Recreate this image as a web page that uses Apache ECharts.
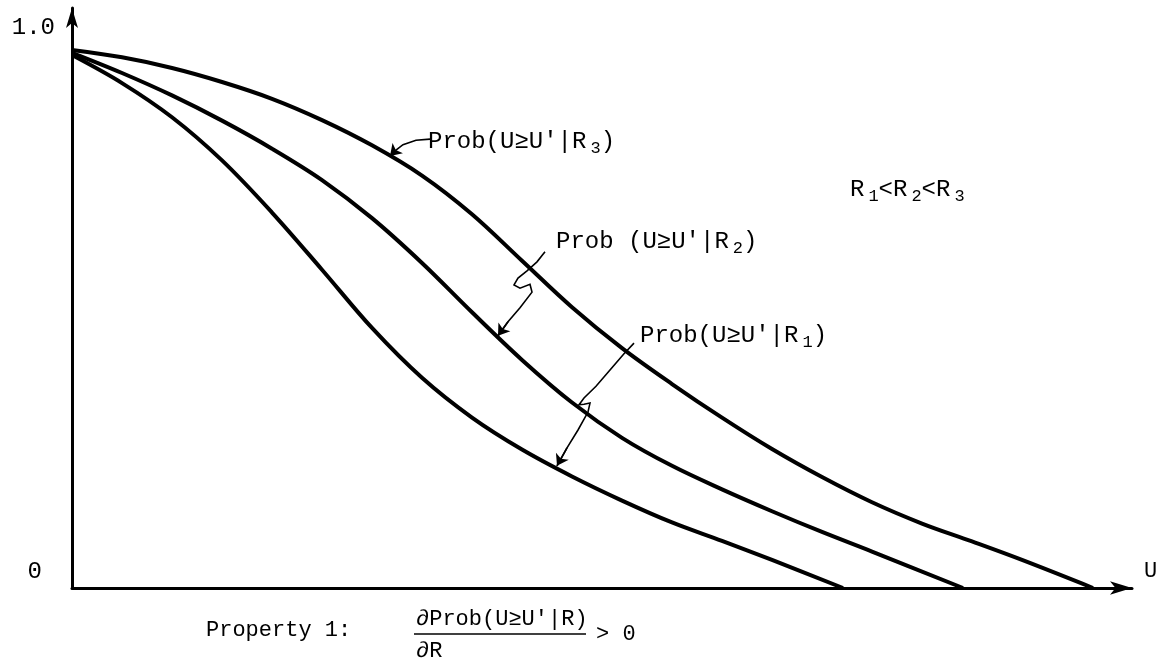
<!DOCTYPE html>
<html>
<head>
<meta charset="utf-8">
<script src="https://cdn.jsdelivr.net/npm/echarts@6/dist/echarts.min.js"></script>
<style>
    html, body { margin: 0; padding: 0; background: #fff; }
    #chart { width: 1162px; height: 666px; }
</style>
</head>
<body>
<div id="chart"></div>
<script>
    // U (horizontal) and Prob(U>=U'|R) values
    var r3U = [0, 0.5, 1, 1.5, 2, 2.5, 3, 3.5, 4, 4.5, 5, 5.5, 6, 6.5, 7, 7.5, 8, 8.5, 9, 9.5, 10.21];
    var r3P = [0.960, 0.947, 0.928, 0.903, 0.873, 0.835, 0.790, 0.736, 0.667, 0.584, 0.501, 0.428, 0.364,
        0.304, 0.248, 0.198, 0.153, 0.115, 0.083, 0.050, 0];

    var r2U = [0, 0.5, 1, 1.5, 2, 2.5, 3, 3.5, 4, 4.5, 5, 5.5, 6, 6.5, 7, 7.5, 8, 8.91];
    var r2P = [0.955, 0.919, 0.879, 0.834, 0.784, 0.728, 0.660, 0.580, 0.492, 0.407, 0.331, 0.268, 0.218,
        0.176, 0.137, 0.100, 0.065, 0];

    var r1U = [0, 0.5, 1, 1.5, 2, 2.5, 3, 3.5, 4, 4.5, 5, 5.5, 6, 6.5, 7, 7.71];
    var r1P = [0.951, 0.901, 0.840, 0.763, 0.670, 0.568, 0.464, 0.375, 0.304, 0.247, 0.199, 0.156, 0.117,
        0.084, 0.050, 0];

    // y tick labels
    var yTicks = [0, 1.0];

    // hand drawn leader arrows (data coords, last point = arrow tip)
    var leaderR3 = [[3.58, 0.801], [3.44, 0.799], [3.31, 0.791], [3.23, 0.780], [3.18, 0.771]];
    var leaderR2 = [[4.73, 0.600], [4.65, 0.582], [4.55, 0.566], [4.46, 0.553], [4.42, 0.541], [4.48, 0.535],
        [4.58, 0.542], [4.60, 0.528], [4.48, 0.500], [4.36, 0.475], [4.26, 0.450]];
    var leaderR1 = [[5.62, 0.437], [5.52, 0.418], [5.38, 0.389], [5.24, 0.360], [5.12, 0.339], [5.07, 0.327],
        [5.12, 0.328], [5.18, 0.330], [5.16, 0.314], [5.06, 0.282], [4.95, 0.250], [4.85, 0.218]];

    var FONT = "'Liberation Mono', 'DejaVu Sans Mono', monospace";

    function zip(xs, ys) {
        var out = [];
        for (var i = 0; i < xs.length; i++) {
            out.push([xs[i], ys[i]]);
        }
        return out;
    }

    function curve(name, xs, ys) {
        return {
            name: name,
            type: 'line',
            data: zip(xs, ys),
            smooth: 0.35,
            showSymbol: false,
            clip: false,
            lineStyle: { color: '#000', width: 4 }
        };
    }

    // arrow head = last segment of each leader
    function tipSegment(pts) {
        var n = pts.length;
        return [{ coord: pts[n - 2] }, { coord: pts[n - 1] }];
    }

    function label(text, x, y, size) {
        var sub = { fontFamily: FONT, fontSize: 17, padding: [12, 0, 0, 4], fill: '#000' };
        return {
            type: 'text',
            x: x,
            y: y,
            style: {
                text: text,
                fontFamily: FONT,
                fontSize: size || 24,
                fill: '#000',
                verticalAlign: 'middle',
                rich: { s: sub }
            }
        };
    }

    var myChart = echarts.init(document.getElementById('chart'));

    var r3Series = curve('R3', r3U, r3P);
    r3Series.markLine = {
        silent: true,
        symbol: ['none', 'arrow'],
        symbolSize: 11,
        label: { show: false },
        lineStyle: { color: '#000', width: 1.6, type: 'solid' },
        data: [tipSegment(leaderR3), tipSegment(leaderR2), tipSegment(leaderR1)]
    };

    var option = {
        backgroundColor: '#fff',
        animation: false,
        grid: { left: 72, right: 30, top: 8, bottom: 78 },
        xAxis: {
            type: 'value',
            min: 0,
            max: 10.6,
            name: 'U',
            nameGap: 12,
            nameTextStyle: { fontFamily: FONT, fontSize: 22, color: '#000', verticalAlign: 'bottom', padding: [0, 0, 6, 0] },
            axisLine: { lineStyle: { color: '#000', width: 3 }, symbol: ['none', 'arrow'], symbolSize: [10, 22] },
            axisTick: { show: false },
            axisLabel: { show: false },
            splitLine: { show: false }
        },
        yAxis: {
            type: 'value',
            min: 0,
            max: 1.035,
            axisLine: { lineStyle: { color: '#000', width: 3 }, symbol: ['none', 'arrow'], symbolSize: [9, 20] },
            axisTick: { show: false },
            splitLine: { show: false },
            axisLabel: {
                customValues: yTicks,
                margin: 17,
                fontFamily: FONT,
                fontSize: 24,
                color: '#000',
                formatter: function(v) {
                    return v === 0 ? '{z|0}' : v.toFixed(1);
                },
                rich: { z: { fontFamily: FONT, fontSize: 24, color: '#000', padding: [0, 13, 32, 0] } }
            }
        },
        series: [
            r3Series,
            curve('R2', r2U, r2P),
            curve('R1', r1U, r1P),
            {
                type: 'lines',
                coordinateSystem: 'cartesian2d',
                polyline: true,
                lineStyle: { color: '#000', width: 1.6, opacity: 1 },
                data: [{ coords: leaderR3 }, { coords: leaderR2 }, { coords: leaderR1 }]
            }
        ],
        graphic: [
            label("Prob(U≥U'|R{s|3})", 428, 142),
            label("Prob (U≥U'|R{s|2})", 556, 242),
            label("Prob(U≥U'|R{s|1})", 640, 336),
            label("R{s|1}<R{s|2}<R{s|3}", 850, 190),
            label('Property 1:', 206, 630, 22),
            label("∂Prob(U≥U'|R)", 416, 619, 22),
            {
                type: 'line',
                shape: { x1: 414, y1: 634, x2: 586, y2: 634 },
                style: { stroke: '#000', lineWidth: 1.5 }
            },
            label('∂R', 416, 651, 22),
            label('> 0', 596, 634, 22)
        ]
    };

    myChart.setOption(option);
</script>
</body>
</html>
